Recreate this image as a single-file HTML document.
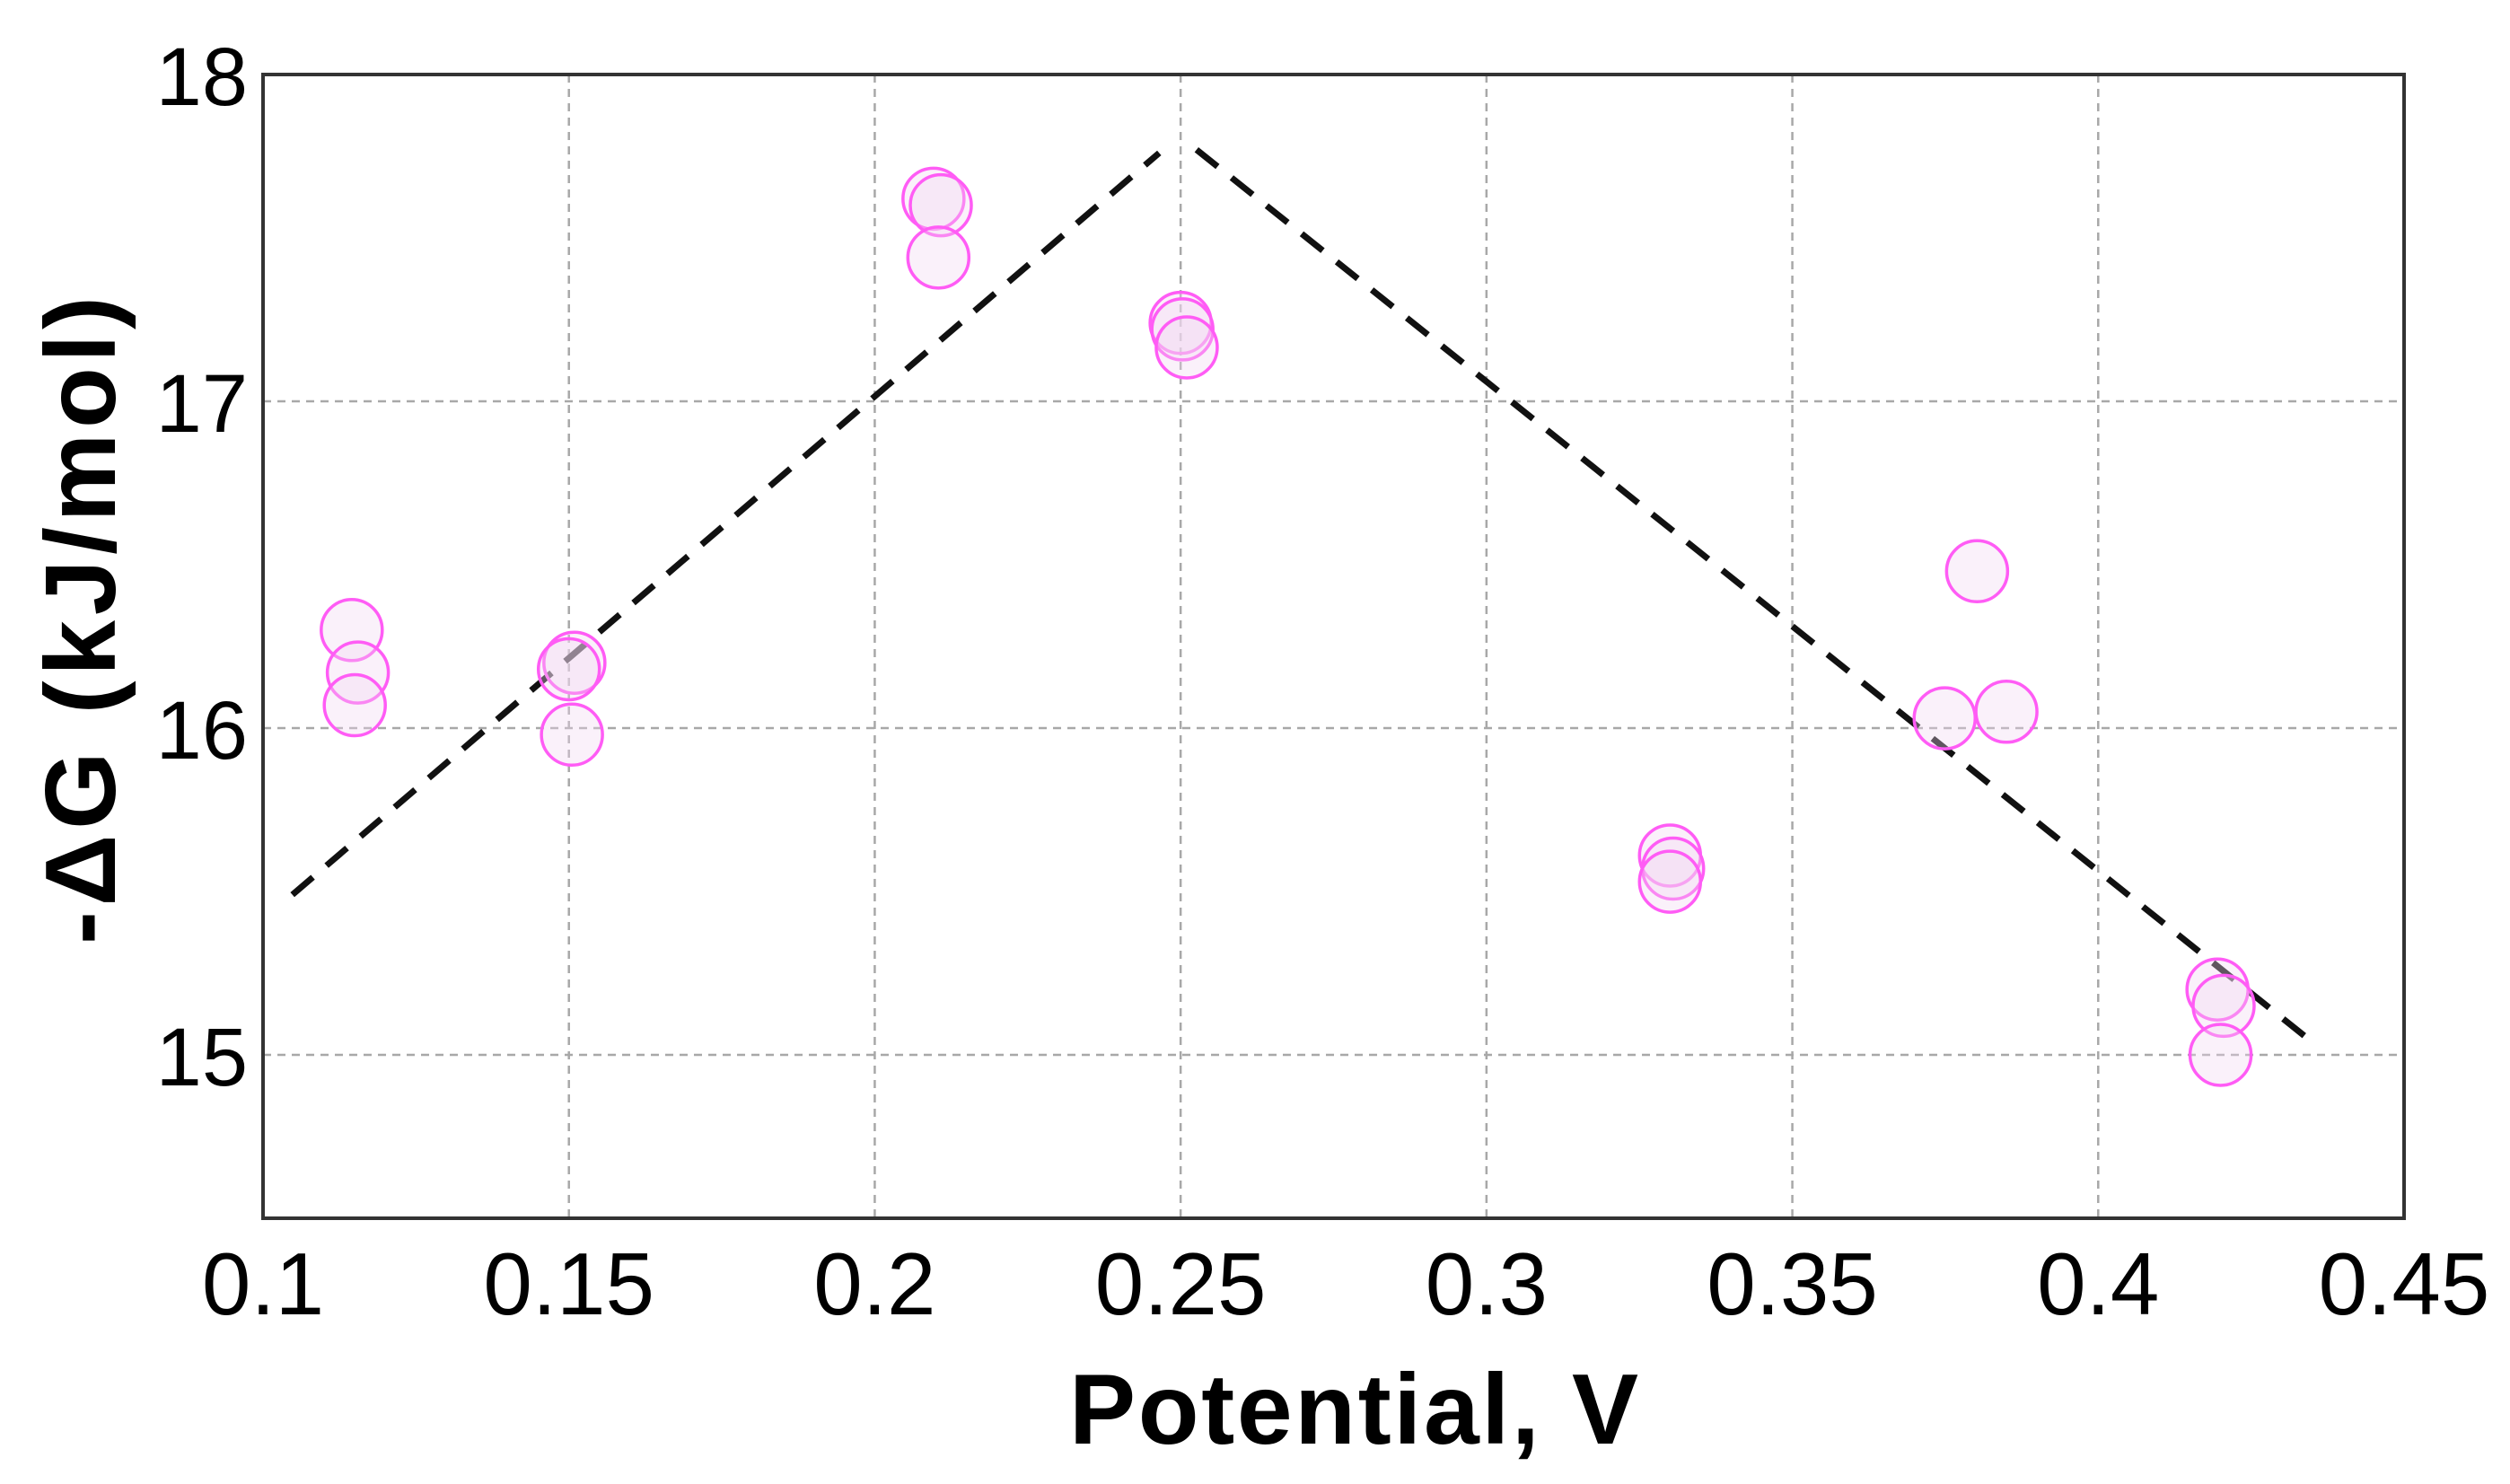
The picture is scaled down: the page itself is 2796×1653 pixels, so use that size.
<!DOCTYPE html>
<html><head><meta charset="utf-8"><style>
html,body{margin:0;padding:0;background:#fff;}
svg{display:block;}
text{font-family:"Liberation Sans","DejaVu Sans",sans-serif;fill:#000;}
</style></head><body>
<svg id="chart" width="2796" height="1653" viewBox="0 0 2796 1653" xmlns="http://www.w3.org/2000/svg">
<g id="grid"></g>
<g id="fit"></g>
<g id="pts"></g>
<rect x="293" y="83" width="2385" height="1274" fill="none" stroke="#333" stroke-width="4"/>
<g id="xticks"></g>
<g id="yticks"></g>
<text x="1508" y="1608" font-size="111" font-weight="bold" text-anchor="middle" textLength="634" lengthAdjust="spacing">Potential, V</text>
<text transform="translate(128,691) rotate(-90)" font-size="111" font-weight="bold" text-anchor="middle" textLength="722" lengthAdjust="spacing">-ΔG (kJ/mol)</text>
</svg>
<script>
const xTicks = [0.1, 0.15, 0.2, 0.25, 0.3, 0.35, 0.4, 0.45];
const xTickLabels = ["0.1", "0.15", "0.2", "0.25", "0.3", "0.35", "0.4", "0.45"];
const yTicks = [15, 16, 17, 18];
const yTickLabels = ["15", "16", "17", "18"];
const pointX = [0.1145, 0.1155, 0.1150, 0.1509, 0.1500, 0.1505, 0.2096, 0.2108, 0.2104, 0.2500, 0.2503, 0.2510, 0.3300, 0.3305, 0.3300, 0.3802, 0.3749, 0.3850, 0.4195, 0.4205, 0.4200];
const pointY = [16.30, 16.17, 16.07, 16.20, 16.18, 15.98, 17.62, 17.60, 17.44, 17.24, 17.22, 17.165, 15.61, 15.57, 15.53, 16.48, 16.03, 16.05, 15.20, 15.15, 15.00];
const fitLeftX = [0.1048, 0.2465];
const fitLeftY = [15.49, 17.76];
const fitRightX = [0.2526, 0.4356];
const fitRightY = [17.77, 15.03];

const X0 = 293, X1 = 2678, Y0 = 83, Y1 = 1357;
const xMin = 0.1, xMax = 0.45, yMin = 14.5, yMax = 18;
function sx(v){ return X0 + (v - xMin) / (xMax - xMin) * (X1 - X0); }
function sy(v){ return Y1 - (v - yMin) / (yMax - yMin) * (Y1 - Y0); }
const NS = "http://www.w3.org/2000/svg";
function mk(tag, attrs, parent){
  const e = document.createElementNS(NS, tag);
  for (const k in attrs) e.setAttribute(k, attrs[k]);
  parent.appendChild(e); return e;
}
const grid = document.getElementById('grid');
xTicks.forEach((t, i) => {
  if (t <= xMin || t >= xMax) return;
  const l = mk('line', {x1: sx(t), x2: sx(t), y1: Y0, y2: Y1, stroke: '#a8a8a8', 'stroke-width': 2.5, 'stroke-dasharray': '9 7'}, grid);
  
  
});
yTicks.forEach((t, i) => {
  if (t >= yMax) return;
  const l = mk('line', {x1: X0, x2: X1, y1: sy(t), y2: sy(t), stroke: '#a8a8a8', 'stroke-width': 2.5, 'stroke-dasharray': '9 7'}, grid);
  
  
});
const xt = document.getElementById('xticks');
xTicks.forEach((t, i) => {
  const e = mk('text', {x: sx(t), y: 1464, 'font-size': 98, 'text-anchor': 'middle'}, xt);
  e.textContent = xTickLabels[i];
  
  
});
const yt = document.getElementById('yticks');
yTicks.forEach((t, i) => {
  const e = mk('text', {x: 276, y: sy(t) + 34, 'font-size': 92, 'text-anchor': 'end'}, yt);
  e.textContent = yTickLabels[i];
  
  
});
const fit = document.getElementById('fit');
const l1 = mk('line', {x1: sx(fitLeftX[0]), y1: sy(fitLeftY[0]), x2: sx(fitLeftX[1]), y2: sy(fitLeftY[1]), stroke: '#111', 'stroke-width': 7, 'stroke-dasharray': '30 20'}, fit);


const l2 = mk('line', {x1: sx(fitRightX[0]), y1: sy(fitRightY[0]), x2: sx(fitRightX[1]), y2: sy(fitRightY[1]), stroke: '#111', 'stroke-width': 7, 'stroke-dasharray': '30 20'}, fit);


const pts = document.getElementById('pts');
pointX.forEach((v, i) => {
  const c = mk('circle', {cx: sx(v), cy: sy(pointY[i]), r: 34, fill: 'rgba(240,215,240,0.35)', stroke: '#ff5cf5', 'stroke-width': 3.5}, pts);
  
  
});
</script>
</body></html>
